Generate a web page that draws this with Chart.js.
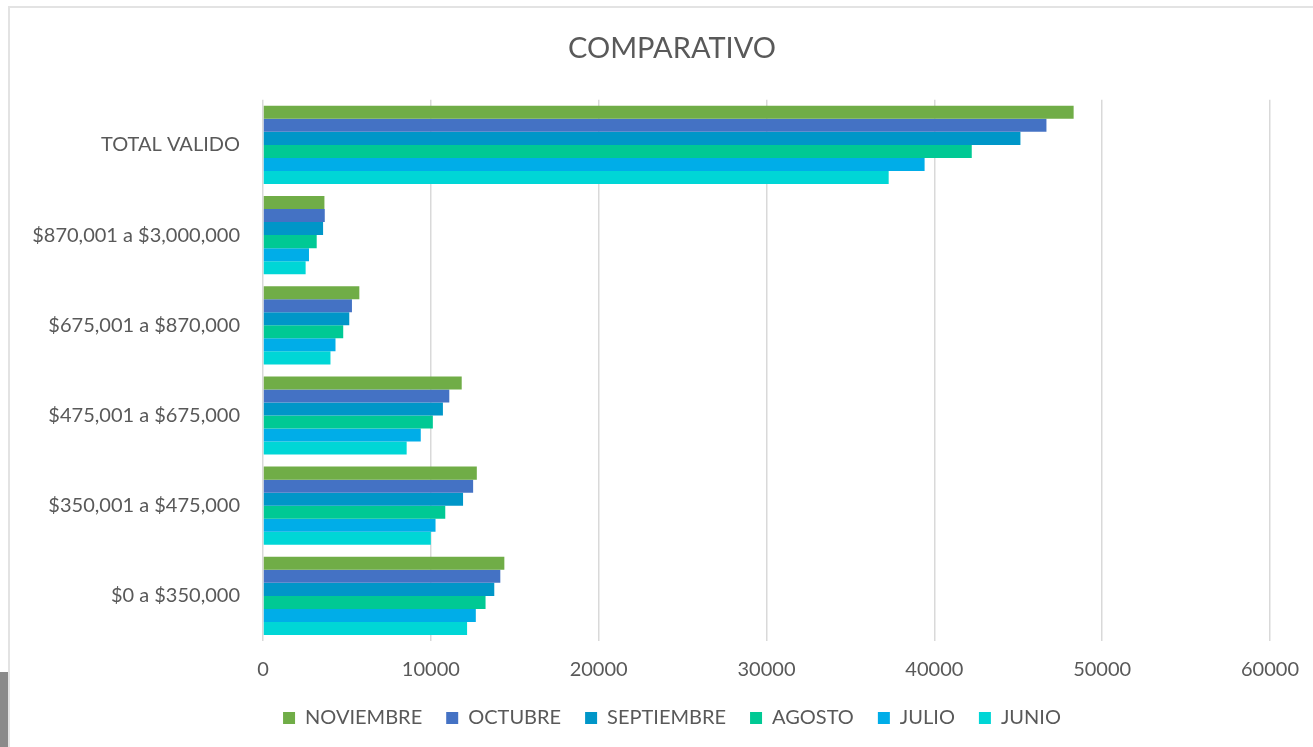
<!DOCTYPE html>
<html>
<head>
<meta charset="utf-8">
<script src="https://cdn.jsdelivr.net/npm/chart.js@4.4.1/dist/chart.umd.min.js"></script>
<style>
  html, body { margin: 0; padding: 0; background: #fff; overflow: hidden; }
  body { width: 1313px; height: 747px; position: relative; }
  #frame { position: absolute; left: 8px; top: 6px; width: 1328px; height: 760px;
           border-left: 2px solid #e3e3e3; border-top: 2px solid #e3e3e3; box-sizing: border-box; }
  #wrap { position: absolute; left: 8px; top: 6px; width: 1328px; height: 741px; }
  #side { position: absolute; left: 0; top: 672px; width: 8px; height: 75px; background: #8a8a8a; }
</style>
</head>
<body>
<div id="frame"></div>
<div id="side"></div>
<div id="wrap"><canvas id="c"></canvas></div>
<script>
const categories = ['TOTAL VALIDO', '$870,001 a $3,000,000', '$675,001 a $870,000', '$475,001 a $675,000', '$350,001 a $475,000', '$0 a $350,000'];
const noviembre  = [48300, 3660, 5740, 11840, 12740, 14380];
const octubre    = [46680, 3680, 5300, 11100, 12520, 14140];
const septiembre = [45130, 3580, 5140, 10720, 11920, 13780];
const agosto     = [42230, 3200, 4780, 10120, 10860, 13260];
const julio      = [39420, 2740, 4320,  9400, 10280, 12680];
const junio      = [37280, 2540, 4020,  8560, 10000, 12160];
const xTicks = [0, 10000, 20000, 30000, 40000, 50000, 60000];

const textColor = '#595959';
const fontFam = 'Lato, "Open Sans", sans-serif';

new Chart(document.getElementById('c'), {
  type: 'bar',
  data: {
    labels: categories,
    datasets: [
      { label: 'NOVIEMBRE', data: noviembre, backgroundColor: '#70AD47' },
      { label: 'OCTUBRE', data: octubre, backgroundColor: '#4472C4' },
      { label: 'SEPTIEMBRE', data: septiembre, backgroundColor: '#0096C8' },
      { label: 'AGOSTO', data: agosto, backgroundColor: '#00C994' },
      { label: 'JULIO', data: julio, backgroundColor: '#00ADE8' },
      { label: 'JUNIO', data: junio, backgroundColor: '#00D6D6' }
    ]
  },
  options: {
    indexAxis: 'y',
    responsive: true,
    maintainAspectRatio: false,
    animation: false,
    datasets: { bar: { categoryPercentage: 0.867, barPercentage: 1.0, borderWidth: 0 } },
    layout: { padding: { left: 0, right: 0, top: 0, bottom: 9 } },
    scales: {
      x: {
        min: 0, max: 60000,
        afterBuildTicks: (s) => { s.ticks = xTicks.map(v => ({ value: v })); },
        afterFit: (s) => { s.height = 43; },
        grid: { color: '#d9d9d9', lineWidth: 1.5, drawTicks: false },
        border: { display: false },
        ticks: { color: textColor, font: { family: fontFam, size: 20 }, padding: 17,
                 callback: (v) => String(v) }
      },
      y: {
        afterFit: (s) => { s.width = 255; },
        grid: { display: false, drawTicks: false },
        border: { display: false },
        ticks: { color: textColor, font: { family: fontFam, size: 20 }, padding: 23 }
      },
      spacer: {
        type: 'linear', position: 'right', display: true,
        afterFit: (s) => { s.width = 66; },
        grid: { display: false, drawTicks: false },
        border: { display: false },
        ticks: { display: false }
      }
    },
    plugins: {
      title: {
        display: true, text: 'COMPARATIVO', color: textColor,
        font: { family: fontFam, size: 29, weight: 'normal' },
        padding: { top: 25, bottom: 34 }
      },
      legend: {
        position: 'bottom',
        labels: { color: textColor, font: { family: fontFam, size: 20 }, boxWidth: 12, boxHeight: 12, padding: 24 }
      },
      tooltip: { enabled: false }
    }
  }
});
</script>
</body>
</html>
